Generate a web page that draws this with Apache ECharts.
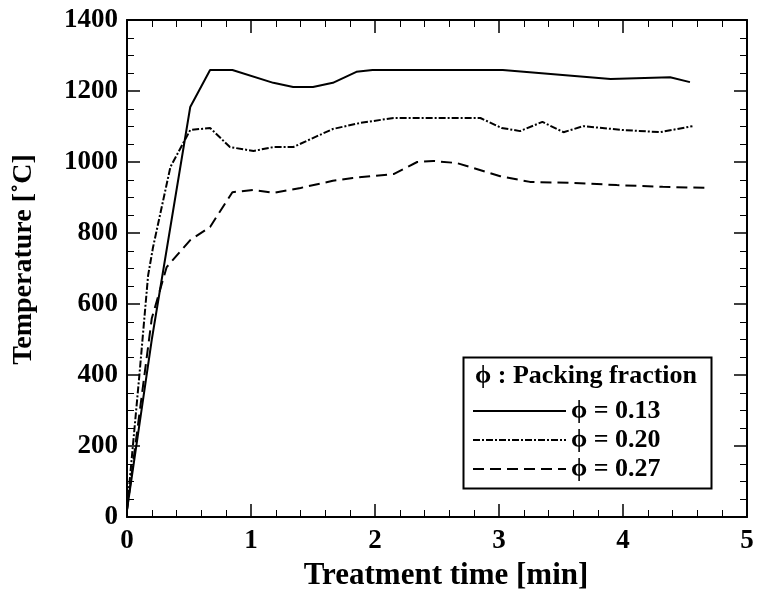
<!DOCTYPE html>
<html lang="en">
<head>
    <meta charset="UTF-8">
    <title>Temperature vs treatment time</title>
    <style>
        body { margin: 0; background: #fff; }
        #main { width: 758px; height: 600px; }
    </style>
</head>
<body>
    <div id="main"></div>
    <script src="https://cdn.jsdelivr.net/npm/echarts@6/dist/echarts.min.js"></script>
    <script>
        // data: [time (min), temperature (C)]
        var seriesNames = ['ϕ = 0.13', 'ϕ = 0.20', 'ϕ = 0.27'];

        var phi013 = [
            [0, 20], [0.2, 500], [0.51, 1155], [0.67, 1259], [0.85, 1259],
            [1.18, 1223], [1.34, 1211], [1.5, 1211], [1.66, 1223], [1.85, 1254],
            [1.98, 1259], [3.03, 1259], [3.9, 1234], [4.38, 1239], [4.54, 1225]
        ];
        var phi020 = [
            [0, 20], [0.1, 400], [0.17, 680], [0.21, 760], [0.35, 986], [0.51, 1090],
            [0.67, 1096], [0.83, 1042], [1.02, 1031], [1.18, 1042], [1.34, 1042],
            [1.66, 1093], [1.88, 1110], [2.15, 1124], [2.44, 1124], [2.85, 1124],
            [3.02, 1096], [3.17, 1087], [3.35, 1113], [3.52, 1084], [3.68, 1101],
            [4.0, 1090], [4.3, 1084], [4.56, 1101]
        ];
        var phi027 = [
            [0, 20], [0.2, 560], [0.32, 704], [0.51, 780], [0.67, 817], [0.85, 915],
            [1.02, 921], [1.18, 913], [1.4, 927], [1.66, 947], [1.82, 955],
            [2.15, 966], [2.34, 1000], [2.47, 1003], [2.66, 997], [3.01, 960],
            [3.25, 944], [3.6, 941], [3.95, 935], [4.32, 930], [4.68, 927]
        ];

        var font = '"Liberation Serif", "Times New Roman", serif';
        var myChart = echarts.init(document.getElementById('main'));

        function makeX(pos, showLabel) {
            return {
                type: 'value', position: pos, min: 0, max: 5, interval: 1,
                name: showLabel ? 'Treatment time [min]' : '',
                nameLocation: 'middle', nameGap: 43,
                nameTextStyle: { fontFamily: font, fontWeight: 'bold', fontSize: 31, color: '#000', padding: [0, 0, 0, 18] },
                axisLine: { show: true, onZero: false, lineStyle: { color: '#000', width: 2 } },
                axisTick: { show: true, inside: true, length: 13, lineStyle: { color: '#000', width: 1.5 } },
                minorTick: { show: true, splitNumber: 5, length: 7, lineStyle: { color: '#000', width: 1 } },
                axisLabel: { show: showLabel, fontFamily: font, fontWeight: 'bold', fontSize: 27, color: '#000', margin: 11 },
                splitLine: { show: false }
            };
        }
        function makeY(pos, showLabel) {
            return {
                type: 'value', position: pos, min: 0, max: 1400, interval: 200,
                name: showLabel ? 'Temperature [˚C]' : '',
                nameLocation: 'middle', nameGap: 89, nameRotate: 90,
                nameTextStyle: { fontFamily: font, fontWeight: 'bold', fontSize: 28, color: '#000', padding: [0, 0, 0, 18] },
                axisLine: { show: true, onZero: false, lineStyle: { color: '#000', width: 2 } },
                axisTick: { show: true, inside: true, length: 13, lineStyle: { color: '#000', width: 1.5 } },
                minorTick: { show: true, splitNumber: 4, length: 7, lineStyle: { color: '#000', width: 1 } },
                axisLabel: {
                    show: showLabel, fontFamily: font, fontWeight: 'bold', fontSize: 27, color: '#000', margin: 9,
                    formatter: function (v) { return String(v); }
                },
                splitLine: { show: false }
            };
        }

        function line(name, data, type) {
            return {
                name: name, type: 'line', data: data, xAxisIndex: 0, yAxisIndex: 0,
                showSymbol: false, symbol: 'none', smooth: false,
                lineStyle: { color: '#000', width: 2, type: type },
                itemStyle: { color: '#000' }
            };
        }

        var option = {
            backgroundColor: '#fff',
            animation: false,
            grid: { left: 127, top: 20, right: 11, bottom: 83 },
            title: {
                text: 'ϕ : Packing fraction',
                left: 470, top: 358,
                textStyle: { fontFamily: font, fontWeight: 'bold', fontSize: 26, color: '#000' }
            },
            legend: {
                data: seriesNames,
                orient: 'vertical', left: 467, top: 393,
                itemWidth: 93, itemHeight: 14, itemGap: 3,
                itemStyle: { color: 'transparent', borderWidth: 0 },
                textStyle: { fontFamily: font, fontWeight: 'bold', fontSize: 26, color: '#000' }
            },
            graphic: [{
                type: 'rect', left: 461, top: 355,
                shape: { width: 248, height: 131 },
                style: { fill: 'none', stroke: '#000', lineWidth: 2 }
            }],
            xAxis: [makeX('bottom', true), makeX('top', false)],
            yAxis: [makeY('left', true), makeY('right', false)],
            series: [
                line(seriesNames[0], phi013, 'solid'),
                line(seriesNames[1], phi020, [7, 2, 2, 2]),
                line(seriesNames[2], phi027, [11, 6])
            ]
        };

        myChart.setOption(option);
    </script>
</body>
</html>
